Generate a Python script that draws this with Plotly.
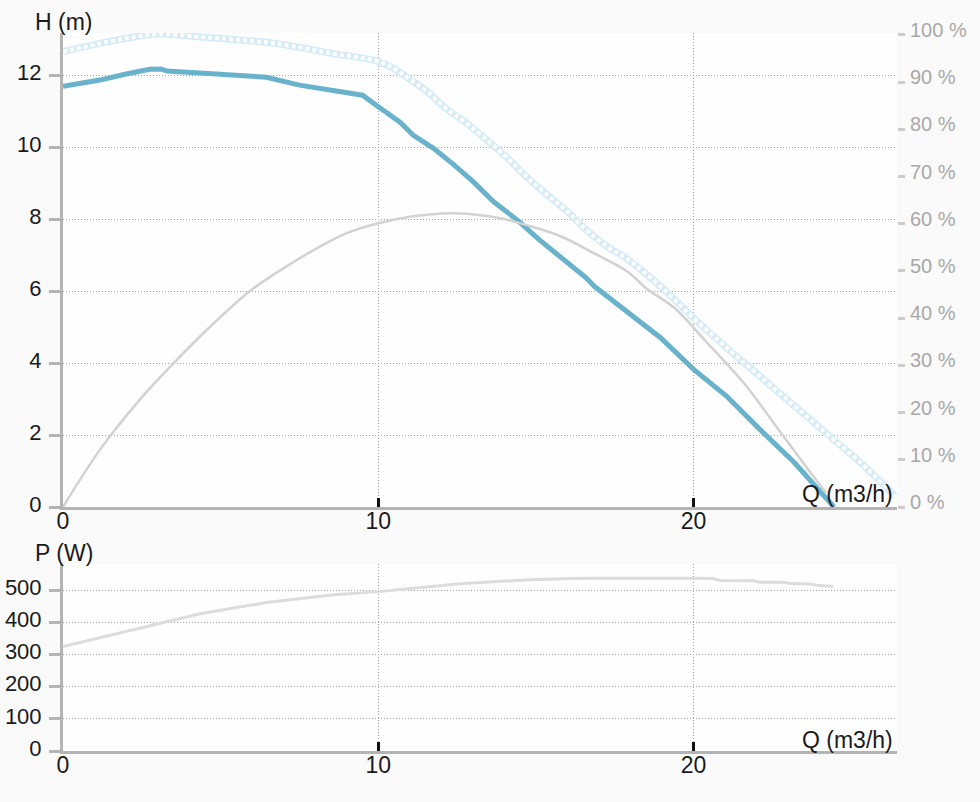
import plotly.graph_objects as go

# ---- data ----
Q_H = [0, 1.17, 2.0, 2.75, 3.1, 3.3, 4.35, 5.4, 6.45, 7.5, 8.55, 9.5, 10.0, 10.7, 11.1,
       11.75, 12.4, 13.0, 13.65, 14.4, 15.1, 15.8, 16.6, 16.85, 17.9, 18.95, 20.0, 21.05,
       22.1, 23.2, 24.45]
H = [11.71, 11.88, 12.05, 12.18, 12.19, 12.13, 12.08, 12.02, 11.96, 11.74, 11.58, 11.46,
     11.14, 10.7, 10.35, 9.98, 9.52, 9.06, 8.5, 7.99, 7.44, 6.93, 6.37, 6.14, 5.44, 4.71,
     3.83, 3.08, 2.16, 1.23, 0.0]

Q_MAX = [0, 1.17, 2.2, 3.07, 4.35, 5.4, 6.45, 7.5, 8.55, 9.95, 10.5, 11.0, 11.55, 12.15,
         12.8, 13.45, 14.05, 14.7, 15.35, 16.0, 16.6, 17.25, 17.9, 18.95, 20.0, 21.05, 22.1,
         23.2, 24.25, 25.3, 26.4]
H_MAX = [12.67, 12.9, 13.07, 13.16, 13.08, 13.01, 12.93, 12.79, 12.62, 12.41, 12.2, 11.9,
         11.56, 11.09, 10.68, 10.21, 9.75, 9.19, 8.69, 8.22, 7.71, 7.25, 6.9, 6.14, 5.26,
         4.43, 3.64, 2.81, 2.02, 1.23, 0.3]

Q_EFF = [0, 1.17, 2.43, 3.5, 4.45, 5.9, 7.0, 8.05, 9.0, 10.0, 11.0, 11.55, 12.3, 13.1,
         13.85, 14.7, 15.8, 16.85, 17.9, 18.5, 19.4, 20.4, 21.6, 22.55, 23.4, 24.2]
EFF = [0, 12.1, 22.7, 30.4, 36.8, 45.6, 50.6, 54.8, 58.0, 60.1, 61.5, 61.9, 62.2, 61.9,
       61.2, 59.7, 57.3, 53.7, 49.9, 46.3, 42.1, 35.0, 26.2, 17.7, 10.0, 3.0]

Q_P = [0, 2.2, 4.35, 6.45, 8.6, 10.0, 10.8, 11.85, 12.5, 13.1, 13.85, 14.8, 16.1, 17.0,
       20.0, 20.6, 20.85, 21.9, 22.1, 22.85, 23.05, 23.7, 23.9, 24.43]
P = [325, 377, 427, 462, 486, 496, 504, 514, 520, 524, 529, 533, 537, 538, 538, 537, 531,
     530, 525, 525, 521, 520, 516, 512]

H_TICKS = [0, 2, 4, 6, 8, 10, 12]
EFF_TICKS = [0, 10, 20, 30, 40, 50, 60, 70, 80, 90, 100]
P_TICKS = [0, 100, 200, 300, 400, 500]
Q_TICKS = [0, 10, 20]

FONT = "Liberation Sans, Arial, sans-serif"
AXIS_GRAY = "#b4b4b4"
W, HGT = 980, 802
XDOM = [63 / W, 897 / W]
TOP = [1 - 507 / HGT, 1 - 33 / HGT]
BOT = [1 - 751 / HGT, 1 - 564 / HGT]
XR = [0, 26.45]

fig = go.Figure()

# light blue circle-chain curve (band + white holes)
fig.add_trace(go.Scatter(x=Q_MAX, y=H_MAX, mode="lines", xaxis="x", yaxis="y",
                         line=dict(color="#d5ebf7", width=7, shape="spline"),
                         hoverinfo="skip", showlegend=False))
fig.add_trace(go.Scatter(x=Q_MAX, y=H_MAX, mode="lines", xaxis="x", yaxis="y",
                         line=dict(color="#ffffff", width=4, shape="spline", dash="4px,3px"),
                         hoverinfo="skip", showlegend=False))
# efficiency
fig.add_trace(go.Scatter(x=Q_EFF, y=EFF, mode="lines", xaxis="x", yaxis="y2",
                         line=dict(color="#d2d2d2", width=2.5, shape="spline"),
                         showlegend=False))
# H curve
fig.add_trace(go.Scatter(x=Q_H, y=H, mode="lines", xaxis="x", yaxis="y",
                         line=dict(color="#69b2cc", width=5), showlegend=False))
# power
fig.add_trace(go.Scatter(x=Q_P, y=P, mode="lines", xaxis="x2", yaxis="y3",
                         line=dict(color="#dcdcdc", width=3), showlegend=False))

grid = dict(showgrid=True, gridcolor="#a4a4a4", gridwidth=1, griddash="1px,2px",
            zeroline=False, automargin=False)
xfont = dict(family=FONT, size=23, color="#1a1a1a")
yfont = dict(family=FONT, size=22, color="#1a1a1a")

xcommon = dict(domain=XDOM, range=XR, tickvals=Q_TICKS, showline=True, linecolor=AXIS_GRAY,
               linewidth=3, ticks="inside", ticklen=9, tickwidth=3, tickcolor="#111111",
               tickfont=xfont, ticklabelstandoff=-9, **grid)

ycommon = dict(showline=True, linecolor=AXIS_GRAY, linewidth=3, ticks="outside", ticklen=11,
               tickwidth=3, tickcolor=AXIS_GRAY, tickfont=yfont, ticklabelshift=-3,
               ticklabelstandoff=3, **grid)

hidden = dict(showticklabels=False, showgrid=False, zeroline=False, showline=False,
              automargin=False)

fig.update_layout(
    template="none",
    width=W, height=HGT,
    margin=dict(l=0, r=0, t=0, b=0, pad=0),
    paper_bgcolor="#fafafa", plot_bgcolor="#fefefe",
    font=dict(family=FONT, color="#1a1a1a"),
    showlegend=False,
    xaxis=dict(anchor="y", **xcommon),
    xaxis2=dict(anchor="y3", **xcommon),
    yaxis=dict(domain=TOP, range=[0, 13.19], tickvals=H_TICKS, anchor="x", **ycommon),
    yaxis3=dict(domain=BOT, range=[0, 582], tickvals=P_TICKS, anchor="x2", **ycommon),
    # inside halves of the crossing tick marks
    yaxis4=dict(overlaying="y", anchor="x", side="left", range=[0, 13.19], tickvals=H_TICKS,
                ticks="inside", ticklen=10, tickwidth=3, tickcolor=AXIS_GRAY, **hidden),
    yaxis5=dict(overlaying="y3", anchor="x2", side="left", range=[0, 582], tickvals=P_TICKS,
                ticks="inside", ticklen=10, tickwidth=3, tickcolor=AXIS_GRAY, **hidden),
    # right efficiency axis
    yaxis2=dict(overlaying="y", anchor="x", side="right", range=[0, 100.4],
                tickvals=EFF_TICKS, ticktext=[f"{v} %" for v in EFF_TICKS],
                ticks="outside", ticklen=7, tickwidth=3, tickcolor="#cccccc",
                tickfont=dict(family=FONT, size=20, color="#a8a8a8"),
                ticklabelshift=-5, ticklabelstandoff=1,
                showgrid=False, zeroline=False, showline=False, automargin=False),
    yaxis6=dict(overlaying="y", anchor="x", side="right", range=[0, 100.4],
                tickvals=EFF_TICKS, ticks="inside", ticklen=12, tickwidth=3,
                tickcolor="#cccccc", **hidden),
    annotations=[
        dict(text="H (m)", xref="paper", yref="paper", x=33 / W, y=1 - 22 / HGT,
             xanchor="left", yanchor="middle", showarrow=False,
             font=dict(family=FONT, size=23, color="#1a1a1a")),
        dict(text="P (W)", xref="paper", yref="paper", x=33 / W, y=1 - 553 / HGT,
             xanchor="left", yanchor="middle", showarrow=False,
             font=dict(family=FONT, size=23, color="#1a1a1a")),
        dict(text="Q (m3/h)", xref="paper", yref="paper", x=895 / W, y=1 - 494 / HGT,
             xanchor="right", yanchor="middle", showarrow=False,
             font=dict(family=FONT, size=23, color="#1a1a1a")),
        dict(text="Q (m3/h)", xref="paper", yref="paper", x=895 / W, y=1 - 740 / HGT,
             xanchor="right", yanchor="middle", showarrow=False,
             font=dict(family=FONT, size=23, color="#1a1a1a")),
    ],
)

fig.write_html(
    "out.html",
    config={"displayModeBar": False},
    post_script="document.body.style.margin='0';document.body.style.background='#fafafa';",
)
